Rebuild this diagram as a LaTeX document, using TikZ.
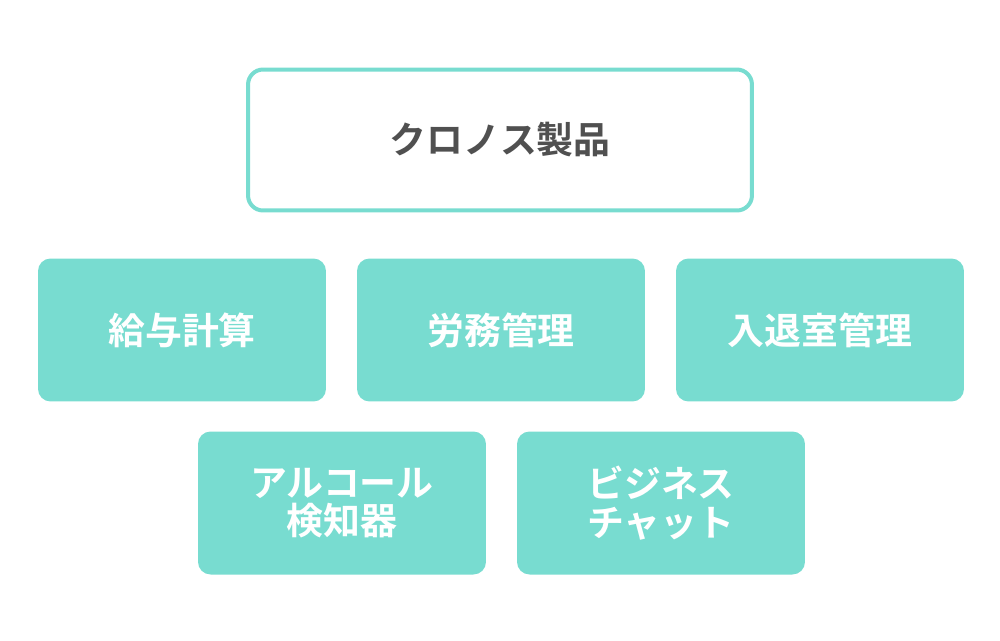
\documentclass[tikz,border=0pt]{standalone}
\usepackage{fontspec}
\setmainfont{Noto Sans CJK JP}[BoldFont={* Bold}]
\usetikzlibrary{positioning}
\definecolor{teal1}{HTML}{78DCD0}
\definecolor{textgray}{HTML}{505050}
\begin{document}
\begin{tikzpicture}[x=0.02cm, y=-0.02cm]
    % Define styles
    \tikzset{topbox/.style={rectangle, draw=teal1, line width=0.08cm, fill=white, rounded corners=0.3cm, minimum width=10.08cm, minimum height=2.82cm, text=textgray, font=\fontsize{21}{25}\selectfont\bfseries}}
    \tikzset{itembox/.style={rectangle, fill=teal1, rounded corners=0.25cm, minimum width=5.76cm, minimum height=2.86cm, text=white, align=center, font=\fontsize{21}{25}\selectfont\bfseries}}
    \useasboundingbox (0,0) rectangle (1000,640);
    % Product root
    \node [topbox] (root) at (500,140) {クロノス製品};
    % First row
    \node [itembox] (payroll) at (182,330) {給与計算};
    \node [itembox] (labor) at (501,330) {労務管理};
    \node [itembox] (entry) at (820,330) {入退室管理};
    % Second row
    \node [itembox] (alcohol) at (342,503) {アルコール\\[-3pt]検知器};
    \node [itembox] (chat) at (661,503) {ビジネス\\[-3pt]チャット};
\end{tikzpicture}
\end{document}
